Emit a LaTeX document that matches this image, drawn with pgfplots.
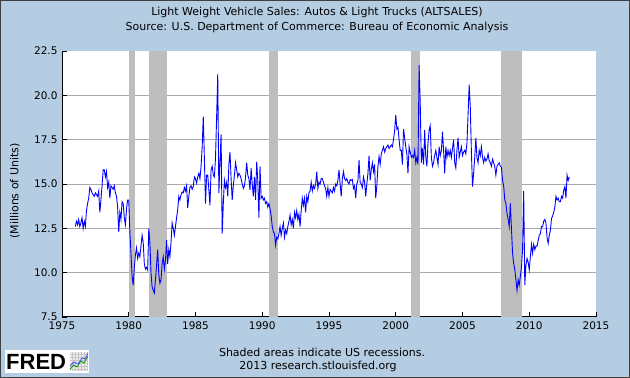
\documentclass[border=0pt]{standalone}
\usepackage{pgfplots}
\pgfplotsset{compat=1.18}
\usepackage{fontspec}
\setmainfont{DejaVu Sans}
\newfontfamily\fredfont{Liberation Sans}
\definecolor{fredbg}{RGB}{181,205,227}
\definecolor{recgray}{RGB}{190,190,190}
\definecolor{gridgray}{RGB}{170,170,170}
\begin{document}
\begin{tikzpicture}[x=1pt,y=1pt]
\fill[fredbg] (0,0) rectangle (630,378);
\draw[black!75, line width=1pt] (0.5,0.5) rectangle (629.5,377.5);
\begin{axis}[
  at={(62pt,61pt)}, anchor=south west,
  width=534pt, height=266pt, scale only axis,
  xmin=1975, xmax=2015, ymin=7.5, ymax=22.5,
  axis lines*=left,
  axis line style={line width=1pt, black},
  axis background/.style={fill=white},
  xtick={1975,1980,...,2015},
  ytick={7.5,10,12.5,15,17.5,20,22.5},
  tick align=inside, major tick length=5pt,
  tick style={black, line width=0.8pt},
  extra y ticks={10,12.5,15,17.5,20},
  extra y tick labels={},
  extra y tick style={grid=major},
  grid style={gridgray, line width=0.9pt},
  /pgf/number format/assume math mode=true,
  x tick label style={/pgf/number format/1000 sep={}, font=\fontsize{10.5}{12}\selectfont, yshift=-1.5pt},
  y tick label style={/pgf/number format/.cd, fixed, fixed zerofill, precision=1, /tikz/.cd, font=\fontsize{10.5}{12}\selectfont, xshift=-1pt},
]
\addplot[fill=recgray, draw=none, forget plot] coordinates {(1980.00,7.5) (1980.00,22.5) (1980.50,22.5) (1980.50,7.5)} -- cycle;
\addplot[fill=recgray, draw=none, forget plot] coordinates {(1981.50,7.5) (1981.50,22.5) (1982.83,22.5) (1982.83,7.5)} -- cycle;
\addplot[fill=recgray, draw=none, forget plot] coordinates {(1990.50,7.5) (1990.50,22.5) (1991.17,22.5) (1991.17,7.5)} -- cycle;
\addplot[fill=recgray, draw=none, forget plot] coordinates {(2001.17,7.5) (2001.17,22.5) (2001.83,22.5) (2001.83,7.5)} -- cycle;
\addplot[fill=recgray, draw=none, forget plot] coordinates {(2007.92,7.5) (2007.92,22.5) (2009.42,22.5) (2009.42,7.5)} -- cycle;
\addplot[color={rgb,255:red,0;green,0;blue,255}, line width=0.9pt, mark=none] table[x expr=1976+\coordindex/12, y index=0, header=false, row sep=\\] {
12.6\\12.9\\12.7\\13.0\\12.6\\12.8\\13.1\\12.5\\12.9\\12.6\\13.5\\13.9\\
14.2\\14.8\\14.7\\14.5\\14.4\\14.3\\14.5\\14.4\\14.3\\14.6\\13.4\\14.1\\
14.9\\15.8\\15.8\\15.4\\15.7\\14.8\\15.1\\14.2\\14.9\\14.8\\14.7\\14.9\\
14.5\\14.3\\13.7\\12.3\\13.4\\13.0\\14.0\\13.9\\13.1\\12.7\\13.6\\14.1\\
14.1\\12.3\\11.1\\9.8\\9.3\\10.3\\11.0\\11.4\\10.8\\11.1\\10.9\\11.5\\
12.1\\11.7\\10.5\\10.2\\10.3\\10.15\\12.5\\11.7\\10.0\\9.2\\9.0\\8.85\\
9.6\\10.4\\11.3\\9.9\\9.4\\9.6\\10.5\\10.9\\10.2\\10.7\\11.85\\10.5\\
11.3\\10.9\\11.7\\12.8\\12.5\\12.1\\12.6\\13.1\\13.55\\14.3\\14.1\\14.4\\
14.55\\14.5\\14.8\\14.6\\14.9\\13.65\\14.3\\14.8\\14.9\\14.7\\14.85\\15.4\\
15.3\\15.05\\15.4\\15.6\\15.3\\16.0\\17.1\\18.8\\16.4\\13.9\\15.5\\15.5\\
14.7\\13.8\\15.8\\16.0\\15.5\\15.4\\16.5\\18.8\\21.2\\14.5\\16.2\\17.8\\
12.2\\13.9\\15.2\\14.8\\15.1\\14.3\\16.1\\16.8\\15.3\\14.1\\14.9\\15.5\\
16.2\\15.8\\15.4\\15.6\\15.5\\15.3\\15.0\\14.75\\14.9\\15.4\\16.2\\15.5\\
15.3\\14.65\\15.9\\15.0\\14.3\\15.4\\14.1\\16.25\\15.2\\13.1\\16.0\\14.2\\
14.3\\14.1\\14.2\\13.9\\14.0\\13.7\\13.9\\13.6\\13.2\\12.6\\12.3\\12.2\\
11.55\\12.0\\11.9\\12.2\\12.6\\12.1\\12.5\\12.8\\12.0\\12.4\\12.2\\12.6\\
12.9\\13.25\\12.7\\13.0\\12.5\\13.4\\13.1\\13.5\\13.0\\13.3\\12.6\\13.5\\
14.2\\13.8\\14.2\\13.4\\14.3\\14.0\\14.5\\14.6\\15.1\\14.6\\14.9\\14.75\\
15.0\\15.7\\14.75\\15.1\\15.0\\15.3\\15.3\\15.1\\14.9\\14.75\\14.3\\14.8\\
14.3\\14.7\\14.6\\14.5\\14.8\\14.6\\15.0\\14.9\\15.2\\15.8\\15.0\\14.3\\
15.3\\15.7\\15.3\\15.2\\15.3\\15.1\\15.0\\15.25\\15.2\\15.25\\14.75\\14.9\\
14.2\\15.0\\15.2\\16.35\\15.1\\15.0\\14.8\\15.4\\15.1\\14.3\\15.0\\15.6\\
16.6\\15.2\\15.8\\16.2\\15.7\\16.1\\14.2\\14.9\\16.0\\16.55\\16.1\\16.7\\
16.9\\17.1\\16.8\\17.0\\17.1\\17.2\\17.0\\17.1\\17.2\\17.1\\17.5\\18.0\\
18.9\\18.1\\18.2\\17.5\\16.9\\16.9\\16.1\\18.1\\17.6\\17.1\\16.7\\15.6\\
17.1\\16.8\\16.5\\16.6\\16.5\\16.9\\16.2\\16.5\\16.1\\21.7\\19.6\\16.2\\
17.0\\16.1\\18.05\\16.5\\16.0\\17.3\\18.05\\18.3\\16.5\\16.0\\16.2\\16.6\\
16.9\\16.5\\16.1\\17.1\\16.6\\16.9\\17.95\\16.9\\15.6\\17.1\\16.5\\16.9\\
16.6\\16.9\\16.5\\17.0\\17.5\\16.2\\15.9\\16.9\\17.6\\16.5\\16.8\\17.1\\
16.6\\16.8\\16.9\\16.7\\17.3\\18.9\\20.6\\19.35\\16.8\\14.85\\15.6\\16.5\\
17.6\\16.5\\16.2\\16.9\\16.6\\17.1\\16.5\\16.2\\16.5\\16.3\\16.4\\16.7\\
16.3\\16.2\\16.0\\16.4\\16.2\\16.0\\15.5\\16.0\\16.1\\16.2\\16.0\\15.95\\
15.2\\14.9\\14.1\\13.9\\13.35\\13.0\\12.6\\13.9\\12.5\\11.1\\10.5\\10.2\\
9.6\\9.0\\9.6\\9.3\\9.8\\10.3\\11.3\\14.6\\9.3\\10.4\\10.8\\10.6\\
10.15\\10.9\\11.6\\11.1\\11.6\\11.3\\11.5\\11.5\\11.8\\12.1\\12.2\\12.6\\
12.6\\12.9\\13.0\\12.8\\12.0\\11.65\\12.1\\12.4\\13.05\\13.2\\13.4\\13.7\\
14.3\\14.1\\14.2\\14.0\\14.0\\14.3\\14.2\\14.65\\14.85\\14.2\\15.5\\15.2\\
15.4\\
};
\end{axis}
\begin{scope}[font=\fontsize{11}{13}\selectfont]
\node at (317,366) {Light Weight Vehicle Sales: Autos \& Light Trucks (ALTSALES)};
\node at (317,351) {Source: U.S. Department of Commerce: Bureau of Economic Analysis};
\node[rotate=90] at (15,187) {(Millions of Units)};
\node at (322,26) {Shaded areas indicate US recessions.};
\node at (318,12) {2013 research.stlouisfed.org};
\end{scope}
\fill[white] (5,5) rectangle (89,28);
\node[anchor=west, inner sep=0pt, font=\fredfont\fontsize{22}{22}\selectfont\bfseries] at (6,16.5) {FRED};
\fill[gray!15] (70,7) rectangle (88,26);
\draw[gray!45, line width=0.3pt] (70,7) grid[step=3] (88,26);
\draw[green!60!black, line width=0.8pt] (70,9) -- (74,13) -- (77,11) -- (81,17) -- (84,15) -- (88,22);
\draw[blue!70, line width=0.8pt] (70,12) -- (74,16) -- (78,14) -- (82,20) -- (85,19) -- (88,25);
\end{tikzpicture}
\end{document}
